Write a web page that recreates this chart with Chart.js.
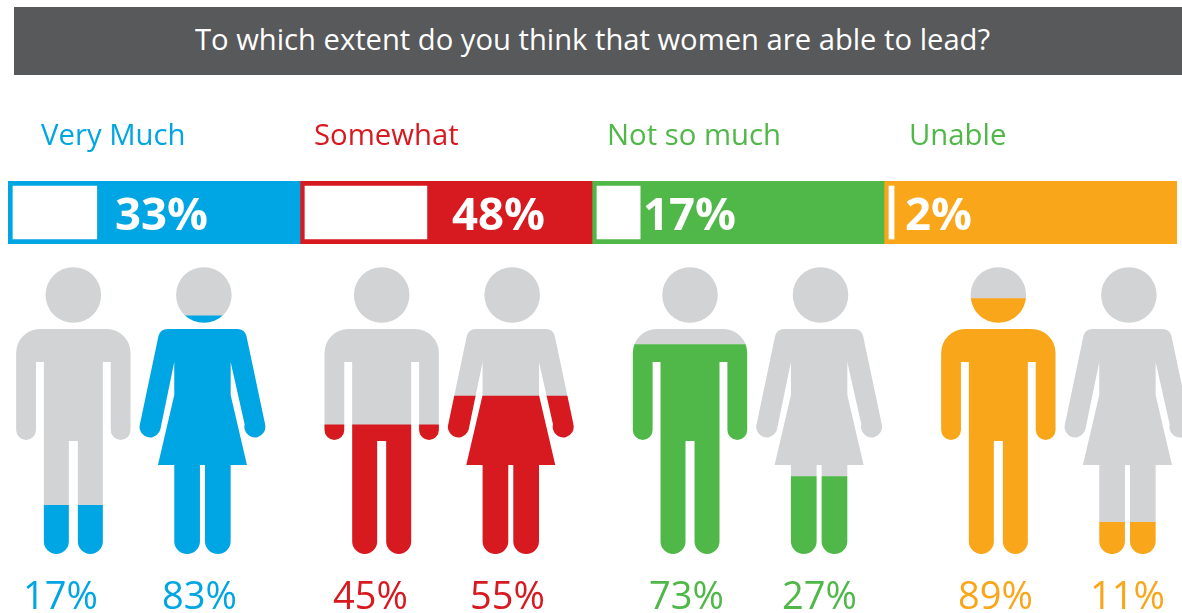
<!DOCTYPE html>
<html>
<head>
<meta charset="utf-8">
<title>Women and leadership</title>
<script src="https://cdn.jsdelivr.net/npm/chart.js@4"></script>
<style>
  html, body { margin: 0; padding: 0; background: #fff; overflow: hidden; }
  #page { position: relative; width: 1182px; height: 613px; overflow: hidden; }
  canvas { position: absolute; left: 0; }
  #heading {
    position: absolute; left: 14px; top: 7px; width: 1157px; height: 68px; padding-right: 11px;
    background: #58595b; color: #fff; text-align: center;
    font: 29.2px/64px "Open Sans", sans-serif;
  }
</style>
</head>
<body>
<div id="page">
  <div id="heading">To which extent do you think that women are able to lead?</div>
  <canvas id="share-chart" width="1182" height="250" style="top:0"></canvas>
  <canvas id="people-chart" width="1182" height="363" style="top:250px"></canvas>
</div>
<script>
const answers = ['Very Much', 'Somewhat', 'Not so much', 'Unable']
const shares = [33, 48, 17, 2]
const men = [17, 45, 73, 89]
const women = [83, 55, 27, 11]

const fillColors = ['#00a5e4', '#d71920', '#50b848', '#faa61a']
const captionColors = ['#00a5e4', '#d71920', '#50b848', '#50b848']
const grey = '#d1d3d4'

// left edges of the texts, px
const captionX = [41, 314, 607, 909]
const shareLabelX = [115, 452, 643, 905]
const peopleLabelX = [23, 162, 333, 470, 649, 782, 958, 1090]

const font = '"Open Sans", sans-serif'
const axisMax = 400.34

function manShape (cx, top) {
  const p = new Path2D()
  p.arc(cx, top + 28, 27.8, 0, Math.PI * 2)
  p.roundRect(cx - 57.2, top + 62, 114.4, 33, [24, 24, 0, 0])
  p.roundRect(cx - 57.2, top + 90, 19.8, 83, [0, 0, 9.9, 9.9])
  p.roundRect(cx + 37.4, top + 90, 19.8, 83, [0, 0, 9.9, 9.9])
  p.rect(cx - 29.5, top + 62, 59, 112)
  p.roundRect(cx - 29.5, top + 170, 25, 117, [0, 0, 12.5, 12.5])
  p.roundRect(cx + 4.5, top + 170, 25, 117, [0, 0, 12.5, 12.5])
  return p
}

// the dress sits a little left of the head
function womanShape (cx, top) {
  const p = new Path2D()
  const b = cx - 1.4
  p.arc(cx, top + 28, 27.8, 0, Math.PI * 2)
  p.moveTo(b - 35, top + 62)
  p.lineTo(b + 35, top + 62)
  p.quadraticCurveTo(b + 42, top + 62, b + 44, top + 69)
  p.lineTo(b + 62.6, top + 157)
  p.arc(b + 52.4, top + 160, 10.5, -0.25, Math.PI + 0.25)
  p.lineTo(b + 28.2, top + 95)
  p.lineTo(b + 28.2, top + 128)
  p.lineTo(b + 44.5, top + 198)
  p.lineTo(b - 44.5, top + 198)
  p.lineTo(b - 28.2, top + 128)
  p.lineTo(b - 28.2, top + 95)
  p.lineTo(b - 42.2, top + 163)
  p.arc(b - 52.4, top + 160, 10.5, -0.25, Math.PI + 0.25)
  p.lineTo(b - 44, top + 69)
  p.quadraticCurveTo(b - 42, top + 62, b - 35, top + 62)
  p.closePath()
  p.roundRect(b - 28.2, top + 190, 25.7, 97, [0, 0, 12.8, 12.8])
  p.roundRect(b + 2.5, top + 190, 25.7, 97, [0, 0, 12.8, 12.8])
  return p
}

// bars only show through the outlines of the people
const figureClip = {
  id: 'figureClip',
  beforeDatasetsDraw (chart) {
    const top = chart.chartArea.top
    const outlines = new Path2D()
    chart.getDatasetMeta(0).data.forEach(bar => outlines.addPath(manShape(bar.x, top)))
    chart.getDatasetMeta(2).data.forEach(bar => outlines.addPath(womanShape(bar.x, top)))
    chart.ctx.save()
    chart.ctx.clip(outlines)
  },
  afterDatasetsDraw (chart) {
    chart.ctx.restore()
  }
}

const peopleLabels = {
  id: 'peopleLabels',
  afterDraw (chart) {
    const ctx = chart.ctx
    ctx.save()
    ctx.font = '38px ' + font
    ctx.textAlign = 'left'
    ctx.textBaseline = 'alphabetic'
    answers.forEach((answer, i) => {
      ctx.fillStyle = fillColors[i]
      ctx.fillText(men[i] + '%', peopleLabelX[i * 2], 359)
      ctx.fillText(women[i] + '%', peopleLabelX[i * 2 + 1], 359)
    })
    ctx.restore()
  }
}

const shareLabels = {
  id: 'shareLabels',
  afterDraw (chart) {
    const ctx = chart.ctx
    const middle = (chart.chartArea.top + chart.chartArea.bottom) / 2
    ctx.save()
    ctx.textAlign = 'left'
    ctx.textBaseline = 'alphabetic'
    answers.forEach((answer, i) => {
      ctx.font = '29.3px ' + font
      ctx.fillStyle = captionColors[i]
      ctx.fillText(answer, captionX[i], 145)
      ctx.font = 'bold 45.5px ' + font
      ctx.fillStyle = '#fff'
      ctx.fillText(shares[i] + '%', shareLabelX[i], middle + 17)
    })
    ctx.restore()
  }
}

function buildShareChart () {
  const ctx = document.getElementById('share-chart')

  // each answer gets a coloured track of 100 units, the white bar sits inside it
  const tracks = answers.map((answer, i) => ({
    label: answer,
    data: [[i * 100, i === answers.length - 1 ? axisMax : (i + 1) * 100]],
    backgroundColor: fillColors[i],
    barThickness: 63
  }))
  const whiteBars = answers.map((answer, i) => ({
    label: answer + ' share',
    data: [[i * 100 + 1.7, i * 100 + 1.7 + shares[i] * 0.87]],
    backgroundColor: '#fff',
    barThickness: 53
  }))

  new Chart(ctx, {
    type: 'bar',
    data: {
      labels: ['share'],
      // the first datasets are painted last, so white goes in front
      datasets: whiteBars.concat(tracks)
    },
    options: {
      indexAxis: 'y',
      responsive: false,
      animation: false,
      layout: { padding: { left: 8, right: 5, top: 181, bottom: 6 } },
      scales: {
        x: { display: false, min: 0, max: axisMax },
        y: { display: false, stacked: true }
      },
      plugins: { legend: { display: false }, tooltip: { enabled: false } }
    },
    plugins: [shareLabels]
  })
}

function buildPeopleChart () {
  const ctx = document.getElementById('people-chart')

  const bar = (label, data, color, stack) => ({
    label,
    data,
    stack,
    backgroundColor: color,
    barThickness: 130.5,
    clip: false
  })

  new Chart(ctx, {
    type: 'bar',
    data: {
      labels: answers,
      datasets: [
        bar('Men', men, fillColors, 'man'),
        bar('Men, rest', men.map(v => 100 - v), grey, 'man'),
        bar('Women', women, fillColors, 'woman'),
        bar('Women, rest', women.map(v => 100 - v), grey, 'woman')
      ]
    },
    options: {
      responsive: false,
      animation: false,
      layout: { padding: { left: 138.6, right: 118.4, top: 17, bottom: 59 } },
      scales: {
        x: { display: false, stacked: true, offset: false },
        y: { display: false, stacked: true, min: 0, max: 100 }
      },
      plugins: { legend: { display: false }, tooltip: { enabled: false } }
    },
    plugins: [figureClip, peopleLabels]
  })
}

buildShareChart()
buildPeopleChart()
</script>
</body>
</html>
